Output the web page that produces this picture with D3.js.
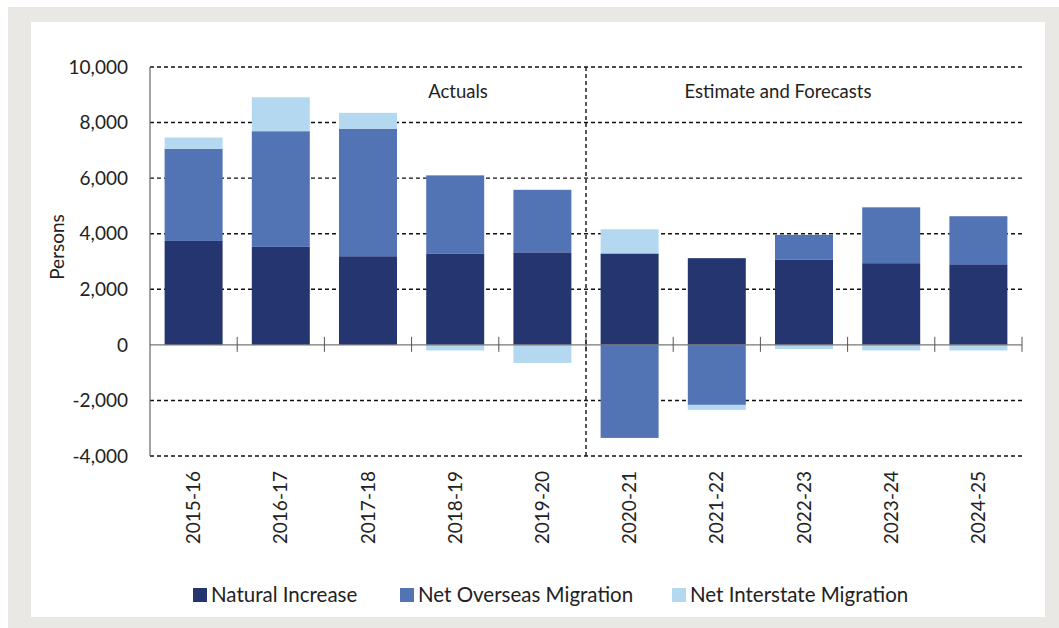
<!DOCTYPE html>
<html>
<head>
<meta charset="utf-8">
<script src="https://cdn.jsdelivr.net/npm/d3@7"></script>
<style>
  body { margin: 0; background: #fff; }
  svg { display: block; font-family: Lato, "Open Sans", sans-serif; }
  text { fill: #222; }
</style>
</head>
<body>
<svg width="1059" height="628"></svg>
<script>
// data
const years = ['2015-16', '2016-17', '2017-18', '2018-19', '2019-20',
               '2020-21', '2021-22', '2022-23', '2023-24', '2024-25'];
const naturalIncrease = [3740, 3525, 3190, 3290, 3330, 3290, 3120, 3060, 2940, 2900];
const netOverseas     = [3320, 4165, 4590, 2810, 2250, -3350, -2160, 900, 2010, 1730];
const netInterstate   = [400, 1220, 570, -200, -650, 870, -180, -150, -200, -200];
const seriesNames = ['Natural Increase', 'Net Overseas Migration', 'Net Interstate Migration'];
const yTicks = [-4000, -2000, 0, 2000, 4000, 6000, 8000, 10000];

const colors = ['#243570', '#5274b5', '#b3d8f0'];

const margin = {top: 67, right: 37, bottom: 172, left: 150};
const width = 1059 - margin.left - margin.right;
const height = 628 - margin.top - margin.bottom;

var rows = years.map(function(yr, i){
    return {year: yr, s0: naturalIncrease[i], s1: netOverseas[i], s2: netInterstate[i]};
});

const svg = d3.select('svg');

// grey frame and white card
svg.append('rect').attr('x', 8).attr('y', 7).attr('width', 1051).attr('height', 621).attr('fill', '#e9e8e4');
svg.append('rect').attr('x', 31).attr('y', 22).attr('width', 1014).attr('height', 595).attr('fill', '#fff');

const chart = svg.append('g')
    .attr('transform', 'translate(' + margin.left + ',' + margin.top + ')');

const x = d3.scaleBand().domain(years).range([0, width]).paddingInner(0.335).paddingOuter(0.1675);
const y = d3.scaleLinear().domain([-4000, 10000]).range([height, 0]);

// dashed grid
chart.append('g').selectAll('line')
    .data(yTicks.filter(t => t !== 0)).enter()
    .append('line')
    .attr('x1', 0).attr('x2', width)
    .attr('y1', d => y(d)).attr('y2', d => y(d))
    .attr('stroke', '#111')
    .attr('stroke-width', 1.4)
    .attr('stroke-dasharray', '4,3');

// stacked bars
var stack = d3.stack().keys(['s0', 's1', 's2']).offset(d3.stackOffsetDiverging);
var layers = stack(rows);

chart.selectAll('.layer').data(layers).enter()
    .append('g')
    .attr('class', 'layer')
    .attr('fill', (d, i) => colors[i])
    .selectAll('rect')
    .data(d => d).enter()
    .append('rect')
    .attr('x', d => x(d.data.year))
    .attr('width', x.bandwidth())
    .attr('y', d => y(Math.max(d[0], d[1])))
    .attr('height', d => Math.abs(y(d[0]) - y(d[1])));

// zero line and category ticks
chart.append('line')
    .attr('x1', 0).attr('x2', width)
    .attr('y1', y(0)).attr('y2', y(0))
    .attr('stroke', '#777').attr('stroke-width', 1.2);

chart.append('g').selectAll('line')
    .data(d3.range(1, years.length + 1)).enter()
    .append('line')
    .attr('x1', i => i * x.step()).attr('x2', i => i * x.step())
    .attr('y1', y(0) - 8).attr('y2', y(0) + 7)
    .attr('stroke', '#555').attr('stroke-width', 1);

// left axis
chart.append('line')
    .attr('x1', 0).attr('x2', 0)
    .attr('y1', 0).attr('y2', height)
    .attr('stroke', '#666').attr('stroke-width', 1.2);

const fmt = d3.format(',');
chart.append('g').selectAll('text')
    .data(yTicks).enter()
    .append('text')
    .attr('x', -22)
    .attr('y', d => y(d))
    .attr('dy', '0.35em')
    .style('text-anchor', 'end')
    .style('font-size', '19px')
    .text(d => d < 0 ? '-' + fmt(-d) : fmt(d));

// y label
chart.append('text')
    .attr('transform', 'rotate(-90)')
    .attr('x', -(247 - margin.top))
    .attr('y', -93)
    .attr('dy', '0.35em')
    .style('text-anchor', 'middle')
    .style('font-size', '19px')
    .text('Persons');

// category labels
chart.append('g').selectAll('text')
    .data(years).enter()
    .append('text')
    .attr('transform', d => 'translate(' + (x(d) + x.bandwidth() / 2) + ',' + (height + 15) + ') rotate(-90)')
    .attr('dy', '0.35em')
    .style('text-anchor', 'end')
    .style('font-size', '19px')
    .text(d => d);

// actuals / forecasts divider
var split = 5 * x.step();
chart.append('line')
    .attr('x1', split).attr('x2', split)
    .attr('y1', 0).attr('y2', height)
    .attr('stroke', '#111')
    .attr('stroke-width', 1.4)
    .attr('stroke-dasharray', '4,3');

chart.append('text')
    .attr('x', 458 - margin.left)
    .attr('y', 92 - margin.top)
    .attr('dy', '0.35em')
    .style('text-anchor', 'middle')
    .style('font-size', '18.5px')
    .text('Actuals');

chart.append('text')
    .attr('x', 778 - margin.left)
    .attr('y', 92 - margin.top)
    .attr('dy', '0.35em')
    .style('text-anchor', 'middle')
    .style('font-size', '18.5px')
    .text('Estimate and Forecasts');

// legend
const legendX = [193, 400, 672];
var legend = svg.append('g').selectAll('g')
    .data(seriesNames).enter()
    .append('g')
    .attr('transform', (d, i) => 'translate(' + legendX[i] + ',595)');

legend.append('rect')
    .attr('x', 0).attr('y', -7)
    .attr('width', 14).attr('height', 14)
    .attr('fill', (d, i) => colors[i]);

legend.append('text')
    .attr('x', 18)
    .attr('dy', '0.35em')
    .style('font-size', '20.5px')
    .text(d => d);
</script>
</body>
</html>
